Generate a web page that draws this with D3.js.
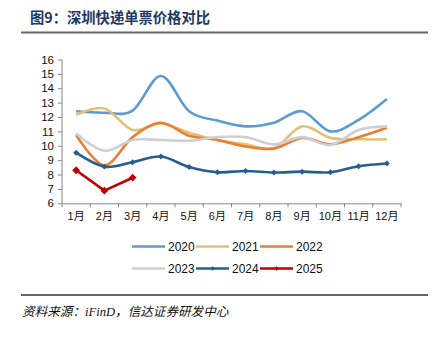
<!DOCTYPE html>
<html>
<head>
<meta charset="utf-8">
<script src="https://cdn.jsdelivr.net/npm/d3@7"></script>
<style>
  body { margin: 0; background: #fff; }
  svg { display: block; }
  text { font-family: "Liberation Sans", Arial, "Noto Sans CJK SC", sans-serif; }
</style>
</head>
<body>
<svg width="441" height="339"></svg>
<script>
const months = ["1月", "2月", "3月", "4月", "5月", "6月", "7月", "8月", "9月", "10月", "11月", "12月"];
const yTicks = [6, 7, 8, 9, 10, 11, 12, 13, 14, 15, 16];

const v2020 = [12.4, 12.3, 12.45, 14.85, 12.4, 11.75, 11.35, 11.6, 12.4, 11.0, 11.8, 13.25];
const v2021 = [12.15, 12.6, 11.1, 11.55, 10.9, 10.4, 10.1, 9.85, 11.35, 10.55, 10.45, 10.45];
const v2022 = [10.75, 8.65, 10.6, 11.6, 10.7, 10.4, 9.95, 9.8, 10.55, 10.1, 10.6, 11.25];
const v2023 = [10.85, 9.65, 10.4, 10.4, 10.35, 10.6, 10.6, 10.1, 10.6, 10.05, 11.1, 11.35];
const v2024 = [9.52, 8.55, 8.86, 9.25, 8.52, 8.16, 8.25, 8.14, 8.2, 8.16, 8.58, 8.77];
const v2025 = [8.3, 6.88, 7.78];

const series = [
  { name: "2020", values: v2020, color: "#5b9bd5", smooth: true, marker: 0 },
  { name: "2021", values: v2021, color: "#e0c274", smooth: true, marker: 0 },
  { name: "2022", values: v2022, color: "#ed7d31", smooth: true, marker: 0 },
  { name: "2023", values: v2023, color: "#cfcfcf", smooth: true, marker: 0 },
  { name: "2024", values: v2024, color: "#255e91", smooth: true, marker: 3.2 },
  { name: "2025", values: v2025, color: "#c00000", smooth: false, marker: 4.2 }
];

const svg = d3.select("svg");

// title + rules
svg.append("text")
  .text("图9：深圳快递单票价格对比")
  .attr("x", 30).attr("y", 22.5)
  .attr("fill", "#1f3864")
  .style("font-family", "'Noto Sans CJK SC', sans-serif")
  .style("font-weight", "bold")
  .style("font-size", "14.3px");
svg.append("line").attr("x1", 21).attr("x2", 428).attr("y1", 32.5).attr("y2", 32.5)
  .attr("stroke", "#666").attr("stroke-width", 2);
svg.append("line").attr("x1", 21).attr("x2", 428).attr("y1", 295).attr("y2", 295)
  .attr("stroke", "#666").attr("stroke-width", 2);
svg.append("text")
  .text("资料来源：iFinD，信达证券研发中心")
  .attr("x", 22).attr("y", 316)
  .attr("fill", "#111")
  .style("font-family", "'Liberation Serif', 'Noto Sans CJK SC', serif")
  .style("font-style", "italic")
  .style("font-size", "12.6px");

const xScale = d3.scaleBand().domain(months).range([62, 401]);
const yScale = d3.scaleLinear().domain([6, 16]).range([203.3, 59.5]);

// y axis
const yAxis = d3.axisLeft(yScale).tickValues(yTicks).tickSize(4).tickPadding(4);
const yAxisG = svg.append("g").attr("transform", "translate(62,0)").call(yAxis);
yAxisG.select(".domain").attr("stroke", "#888").attr("d", "M0,59.5V203.3");
yAxisG.selectAll(".tick line").attr("stroke", "#888");
yAxisG.selectAll("text").style("font-size", "11.5px").attr("fill", "#111");

// x axis
const xAxis = d3.axisBottom(xScale).tickSize(0).tickPadding(9);
const xAxisG = svg.append("g").attr("transform", "translate(0,203.3)").call(xAxis);
xAxisG.select(".domain").attr("stroke", "#888");
xAxisG.selectAll("text").style("font-size", "11px").attr("fill", "#111");
const bounds = months.map(m => xScale(m)).concat([401]);
xAxisG.selectAll(".bound").data(bounds).enter().append("line")
  .attr("x1", d => d).attr("x2", d => d).attr("y1", 0).attr("y2", 4)
  .attr("stroke", "#888");

// lines
const cx = i => xScale(months[i]) + xScale.bandwidth() / 2;
const plot = svg.append("g");
series.forEach(s => {
  const line = d3.line()
    .x((d, i) => cx(i))
    .y(d => yScale(d))
    .curve(s.smooth ? d3.curveCardinal.tension(0) : d3.curveLinear);
  plot.append("path")
    .datum(s.values)
    .attr("fill", "none")
    .attr("stroke", s.color)
    .attr("stroke-width", 2.6)
    .attr("stroke-linejoin", "round")
    .attr("d", line);
  if (s.marker) {
    plot.selectAll(null).data(s.values).enter().append("path")
      .attr("d", d3.symbol(d3.symbolDiamond2, s.marker * s.marker * 2.2))
      .attr("transform", (d, i) => `translate(${cx(i)},${yScale(d)})`)
      .attr("fill", s.color);
  }
});

// legend
const legendPos = [[132, 246.5], [196, 246.5], [260, 246.5], [132, 268.5], [196, 268.5], [260, 268.5]];
series.forEach((s, i) => {
  const g = svg.append("g").attr("transform", `translate(${legendPos[i][0]},${legendPos[i][1]})`);
  g.append("line").attr("x1", 0).attr("x2", 33).attr("y1", 0).attr("y2", 0)
    .attr("stroke", s.color).attr("stroke-width", 2.6);
  if (s.marker) {
    g.append("path").attr("d", d3.symbol(d3.symbolDiamond2, 14)).attr("transform", "translate(16.5,0)")
      .attr("fill", s.color);
  }
  g.append("text").text(s.name).attr("x", 36).attr("y", 4.3)
    .style("font-size", "12px").attr("fill", "#111");
});
</script>
</body>
</html>
